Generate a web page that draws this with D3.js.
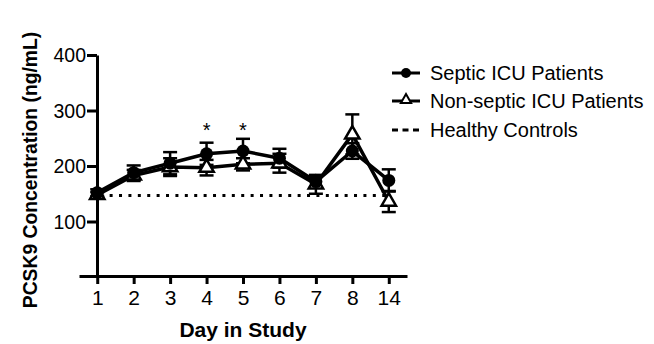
<!DOCTYPE html>
<html>
<head>
<meta charset="utf-8">
<script src="https://cdn.jsdelivr.net/npm/d3@7"></script>
<style>
  body { margin: 0; background: #fff; }
  svg text { font-family: "Liberation Sans", Arial, sans-serif; fill: #000; }
  .axis path, .axis line { stroke: #000; }
</style>
</head>
<body>
<div id="chart"></div>
<script>
// data
var days = ["1", "2", "3", "4", "5", "6", "7", "8", "14"];
var septic = [152, 188, 205, 222, 227, 214, 172, 227, 174];
var septicErr = [6, 13, 20, 20, 22, 17, 10, 14, 20];
var nonSeptic = [148, 183, 198, 197, 203, 205, 167, 257, 136];
var nonSepticErr = [5, 10, 16, 14, 11, 17, 17, 36, 19];
var healthy = 147;
var starDays = ["4", "5"];
var starLevel = 250;
var yTicks = [100, 200, 300, 400];
var legendLabels = ["Septic ICU Patients", "Non-septic ICU Patients", "Healthy Controls"];

var width = 654, height = 344;

var svg = d3.select("#chart").append("svg")
    .attr("width", width)
    .attr("height", height);

var x = d3.scalePoint()
    .domain(days)
    .range([79, 407])
    .padding(0.5);

var y = d3.scaleLinear()
    .domain([0, 400])
    .range([277, 55]);

// Axes
var xAxis = d3.axisBottom(x).tickSize(8).tickSizeOuter(0).tickPadding(6);
var gx = svg.append("g")
    .attr("class", "axis")
    .attr("transform", "translate(0,276)")
    .call(xAxis);
gx.select(".domain").attr("stroke-width", 3);
gx.selectAll(".tick line").attr("stroke-width", 3);
gx.selectAll(".tick text").style("font-size", "21px");

var yAxis = d3.axisLeft(y).tickValues(yTicks).tickSize(10).tickSizeOuter(0).tickPadding(1);
var gy = svg.append("g")
    .attr("class", "axis")
    .attr("transform", "translate(97,0)")
    .call(yAxis);
gy.select(".domain").attr("stroke-width", 3);
gy.selectAll(".tick line").attr("stroke-width", 3);
gy.selectAll(".tick text").style("font-size", "19.5px").attr("dy", "0.34em");

svg.append("text")
    .attr("x", x("5"))
    .attr("y", 337)
    .attr("text-anchor", "middle")
    .style("font-size", "21px")
    .style("font-weight", "bold")
    .text("Day in Study");

svg.append("text")
    .attr("transform", "translate(37,170) rotate(-90)")
    .attr("text-anchor", "middle")
    .style("font-size", "19.3px")
    .style("font-weight", "bold")
    .text("PCSK9 Concentration (ng/mL)");

// Healthy controls
svg.append("line")
    .attr("x1", x("1") + 3)
    .attr("x2", x("14"))
    .attr("y1", y(healthy))
    .attr("y2", y(healthy))
    .attr("stroke", "#000")
    .attr("stroke-width", 3)
    .attr("stroke-dasharray", "3,6.4");

var line = d3.line()
    .x(function(d, i) { return x(days[i]); })
    .y(function(d) { return y(d); });

function errorBars(vals, errs) {
    var g = svg.append("g").attr("stroke", "#000").attr("stroke-width", 2.5);
    vals.forEach(function(v, i) {
        var cx = x(days[i]);
        g.append("line").attr("x1", cx).attr("x2", cx)
            .attr("y1", y(v - errs[i])).attr("y2", y(v + errs[i]));
        [v - errs[i], v + errs[i]].forEach(function(e) {
            g.append("line").attr("x1", cx - 7).attr("x2", cx + 7)
                .attr("y1", y(e)).attr("y2", y(e));
        });
    });
}

var tri = d3.symbol().type(d3.symbolTriangle).size(90);

// Non-septic
errorBars(nonSeptic, nonSepticErr);
svg.append("path")
    .datum(nonSeptic)
    .attr("d", line)
    .attr("fill", "none")
    .attr("stroke", "#000")
    .attr("stroke-width", 3.5);

// Septic
errorBars(septic, septicErr);
svg.append("path")
    .datum(septic)
    .attr("d", line)
    .attr("fill", "none")
    .attr("stroke", "#000")
    .attr("stroke-width", 3.5);

svg.selectAll("path.tri")
    .data(nonSeptic)
  .enter().append("path")
    .attr("class", "tri")
    .attr("d", tri)
    .attr("transform", function(d, i) { return "translate(" + x(days[i]) + "," + y(d) + ")"; })
    .attr("fill", "#fff")
    .attr("stroke", "#000")
    .attr("stroke-width", 2.5);

svg.selectAll("circle.septic")
    .data(septic)
  .enter().append("circle")
    .attr("class", "septic")
    .attr("cx", function(d, i) { return x(days[i]); })
    .attr("cy", function(d) { return y(d); })
    .attr("r", 6.5)
    .attr("fill", "#000");

// significance stars
svg.selectAll("text.star")
    .data(starDays)
  .enter().append("text")
    .attr("class", "star")
    .attr("x", function(d) { return x(d); })
    .attr("y", y(starLevel) - 1)
    .attr("text-anchor", "middle")
    .style("font-size", "20px")
    .text("*");

// Legend
var legend = svg.append("g").attr("transform", "translate(392,0)");
var rows = [73, 101, 130];
legendLabels.forEach(function(label, i) {
    var g = legend.append("g").attr("transform", "translate(0," + rows[i] + ")");
    g.append("text")
        .attr("x", 38)
        .attr("y", 7)
        .style("font-size", "20px")
        .text(label);
});
var l0 = legend.select("g:nth-child(1)");
l0.append("line").attr("x1", 0).attr("x2", 28).attr("stroke", "#000").attr("stroke-width", 3);
l0.append("circle").attr("cx", 14).attr("r", 5).attr("fill", "#000");
var l1 = legend.select("g:nth-child(2)");
l1.append("line").attr("x1", 0).attr("x2", 28).attr("stroke", "#000").attr("stroke-width", 3);
l1.append("path").attr("d", d3.symbol().type(d3.symbolTriangle).size(45))
    .attr("transform", "translate(14,-1)")
    .attr("fill", "#fff").attr("stroke", "#000").attr("stroke-width", 2);
var l2 = legend.select("g:nth-child(3)");
l2.append("line").attr("x1", 0).attr("x2", 28).attr("stroke", "#000").attr("stroke-width", 3)
    .attr("stroke-dasharray", "6,4.5");
</script>
</body>
</html>
